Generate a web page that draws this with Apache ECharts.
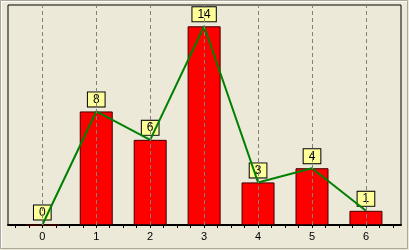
<!DOCTYPE html>
<html>
<head>
<meta charset="utf-8">
<script src="https://cdn.jsdelivr.net/npm/echarts@6/dist/echarts.min.js"></script>
<style>
html,body{margin:0;padding:0;background:#ECE9D8;}
#c{width:409px;height:250px;}
</style>
</head>
<body>
<div id="c"></div>
<script>
var categories = [0, 1, 2, 3, 4, 5, 6];
var values = [0, 8, 6, 14, 3, 4, 1];
var tickValues = [-0.5, -0.25, 0, 0.25, 0.5, 0.75, 1, 1.25, 1.5, 1.75, 2, 2.25, 2.5, 2.75, 3, 3.25, 3.5, 3.75, 4, 4.25, 4.5, 4.75, 5, 5.25, 5.5, 5.75, 6, 6.25, 6.5];

var pts = categories.map(function (c, i) { return [c, values[i]]; });

var chart = echarts.init(document.getElementById('c'), null, {renderer: 'canvas'});
chart.setOption({
  backgroundColor: '#ECE9D8',
  animation: false,
  grid: {left: 8, right: 8, top: 5, bottom: 25, show: true, borderColor: '#000', borderWidth: 1, backgroundColor: 'transparent'},
  xAxis: {
    type: 'value', min: -0.636, max: 6.65,
    axisLine: {show: true, lineStyle: {color: '#000', width: 2}},
    axisTick: {show: true, length: 3, customValues: tickValues, lineStyle: {color: '#000'}},
    axisLabel: {customValues: categories, color: '#000', fontFamily: 'Liberation Sans', fontSize: 11, margin: 6},
    splitLine: {show: false}
  },
  yAxis: {
    type: 'value', min: 0, max: 15.5,
    show: false, splitLine: {show: false}
  },
  graphic: [
    {type: 'rect', silent: true, z: 100, shape: {x: 0.5, y: 0.5, width: 407, height: 248}, style: {fill: 'none', stroke: '#ACA899', lineWidth: 1}},
    {type: 'polyline', silent: true, z: 100, shape: {points: [[1.5, 248], [1.5, 1.5], [407, 1.5]]}, style: {fill: 'none', stroke: '#FFFFFF', lineWidth: 1}}
  ],
  series: [
    {
      type: 'line', data: [], z: 1, silent: true,
      markLine: {
        silent: true, symbol: ['none', 'none'], label: {show: false},
        lineStyle: {color: '#808080', type: [4, 3], width: 1},
        data: categories.map(function (c) { return {xAxis: c}; })
      }
    },
    {
      type: 'bar', data: pts, barWidth: 33, z: 2,
      itemStyle: {color: '#FF0000', borderColor: '#400000', borderWidth: 1},
      label: {
        show: true, position: 'top', distance: 5,
        formatter: function (p) { return p.value[1]; },
        color: '#000', fontFamily: 'Liberation Sans', fontSize: 12, lineHeight: 12,
        backgroundColor: '#FFFF99', borderColor: '#000', borderWidth: 1,
        padding: [1, 5, 1, 5]
      }
    },
    {
      type: 'line', data: pts, z: 3, symbol: 'none',
      lineStyle: {color: '#008000', width: 2}
    }
  ]
});
</script>
</body>
</html>
